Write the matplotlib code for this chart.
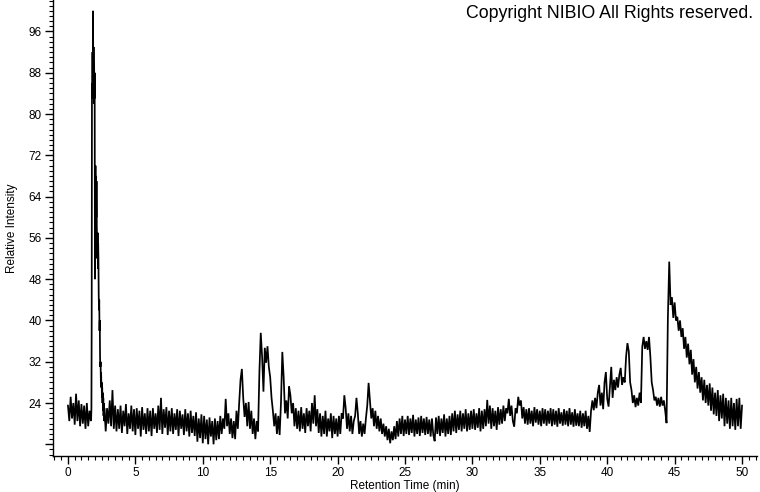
import numpy as np
import matplotlib
matplotlib.use("Agg")
import matplotlib.pyplot as plt
from matplotlib.ticker import MultipleLocator, FixedLocator

plt.rcParams['font.family'] = ['Liberation Sans', 'DejaVu Sans']

# ---- data (relative intensity) ----
step_main = 0.1      # minutes between samples (regular parts)
step_peak = 0.02     # minutes between samples (main peak)

# t = 0.0 .. 1.7
inten_start = [23.5, 20.5, 25.2, 21.0, 24.0, 19.8, 25.8, 20.5, 24.5, 19.5,
               23.8, 20.0, 23.5, 19.0, 24.0, 19.5, 22.5, 20.5]

# t = 1.72 .. 2.70 (main peak)
inten_peak = [21.0, 23.0, 40.0, 86.0, 83.0, 92.0, 86.0, 100.0, 84.0, 93.0,
              82.0, 90.0, 83.0, 88.0, 48.0, 62.0, 70.0, 59.0, 68.0, 60.0,
              67.0, 58.0, 56.0, 52.0, 57.0, 50.0, 55.0, 52.0, 45.0, 42.0,
              44.0, 38.0, 40.0, 33.0, 31.0, 32.0, 28.0, 30.0, 27.0, 28.0,
              25.0, 27.0, 24.0, 26.0, 22.5, 25.0, 21.5, 24.0, 20.5, 23.0]

# t = 2.8 .. 9.9
inten_03_10 = [18.5, 23.0,
               20.0, 24.5, 19.5, 26.5, 19.0, 23.5, 18.5, 22.8, 19.0, 23.5,
               18.2, 22.5, 19.5, 23.8, 18.0, 22.0, 19.0, 23.5, 18.5, 22.8,
               17.8, 23.0, 19.0, 22.5, 17.5, 23.2, 18.8, 22.0, 18.0, 23.0,
               18.5, 22.5, 17.6, 23.0, 19.0, 22.0, 18.2, 23.5, 18.8, 25.0,
               18.0, 22.8, 19.2, 23.2, 17.8, 22.5, 18.5, 23.0, 18.0, 22.0,
               18.8, 22.8, 17.6, 22.5, 19.0, 21.8, 17.8, 22.8, 18.5, 22.0,
               17.5, 22.5, 18.2, 21.5, 17.6, 22.2, 16.5, 21.0, 17.2, 21.8]

# t = 10.0 .. 19.9
inten_10_20 = [16.2, 21.5, 17.0, 20.8, 16.0, 21.2, 17.5, 20.5, 16.0, 21.0,
               16.8, 20.5, 17.0, 21.5, 18.0, 21.0, 19.0, 24.8, 19.5, 22.0,
               18.0, 21.0, 17.2, 20.5, 17.0, 22.5, 19.0, 24.0, 28.5, 30.6,
               25.0, 21.3, 24.0, 19.5, 24.2, 19.0, 22.5, 18.0, 21.0, 17.0,
               20.5, 18.5, 30.0, 37.6, 33.0, 26.2, 34.7, 31.8, 35.0, 31.0,
               29.0, 25.0, 22.5, 19.5, 22.0, 18.0, 21.5, 17.8, 24.0, 33.9,
               29.0, 22.0, 24.5, 21.0, 27.2, 25.5, 22.0, 24.0, 19.5, 23.0,
               19.0, 22.5, 18.5, 23.2, 19.0, 22.0, 18.2, 23.0, 19.5, 22.5,
               18.5, 24.0, 20.0, 25.5, 19.5, 22.8, 18.2, 22.0, 17.5, 21.5,
               18.0, 22.5, 17.5, 21.0, 18.5, 22.0, 17.2, 21.5, 18.0, 21.0]

# t = 20.0 .. 29.9
inten_20_30 = [17.5, 21.5, 18.0, 22.0, 21.0, 25.5, 23.0, 19.0, 22.0, 18.5,
               21.5, 18.0, 20.5, 21.5, 25.0, 22.0, 18.0, 20.5, 17.5, 20.0,
               18.0, 21.0, 23.5, 27.9, 24.5, 21.0, 23.0, 19.5, 22.5, 19.0,
               21.5, 18.5, 21.0, 18.0, 20.0, 17.5, 19.5, 16.8, 19.0, 16.2,
               18.5, 16.8, 19.5, 17.0, 20.5, 17.5, 21.0, 18.0, 21.5, 17.6,
               20.8, 18.0, 21.5, 17.8, 21.0, 18.2, 21.7, 17.5, 20.8, 18.0,
               21.2, 17.6, 21.5, 18.2, 21.0, 17.8, 21.3, 18.0, 20.8, 17.5,
               21.0, 17.8, 16.6, 21.2, 18.0, 21.5, 17.6, 21.0, 18.2, 21.8,
               17.5, 21.0, 18.0, 21.5, 17.8, 22.0, 18.5, 22.5, 18.2, 21.8,
               18.8, 22.5, 18.5, 22.0, 19.0, 22.8, 18.5, 22.0, 18.8, 22.5]

# t = 30.0 .. 39.9
inten_30_40 = [19.0, 22.8, 18.8, 22.0, 19.2, 23.0, 18.5, 22.5, 19.0, 22.8,
               19.5, 24.6, 20.0, 23.5, 19.0, 23.0, 19.5, 22.5, 18.8, 23.2,
               19.8, 22.8, 20.0, 23.5, 20.5, 23.0, 22.0, 24.8, 21.5, 23.5,
               20.5, 19.4, 23.0, 22.0, 25.2, 23.5, 24.5, 21.0, 23.2, 20.0,
               22.8, 19.8, 23.0, 20.0, 22.5, 19.5, 23.2, 20.2, 22.8, 19.8,
               22.5, 19.5, 23.0, 20.0, 22.8, 19.6, 22.5, 20.0, 23.0, 19.5,
               22.8, 19.8, 22.5, 19.4, 23.0, 20.0, 22.2, 19.6, 22.8, 19.8,
               22.5, 19.5, 23.0, 19.8, 22.2, 19.4, 22.8, 19.6, 22.0, 19.5,
               22.5, 19.2, 22.0, 19.5, 22.5, 19.0, 21.5, 18.4, 22.5, 24.5,
               22.6, 25.0, 23.0, 26.0, 27.5, 23.5, 26.0, 22.8, 28.0, 30.0]

# t = 40.0 .. 50.0
inten_40_50 = [24.8, 23.3, 27.0, 31.0, 25.0, 28.5, 26.5, 29.0, 27.0, 29.5,
               30.8, 27.5, 29.0, 28.0, 33.0, 35.6, 34.0, 28.0, 26.5, 24.0,
               25.5, 23.2, 25.0, 23.5, 26.0, 24.0, 34.9, 36.8, 34.5, 36.0,
               34.3, 36.8, 33.0, 28.0, 26.5, 24.5, 25.2, 23.5, 25.0, 23.3,
               25.2, 23.5, 24.5, 22.5, 20.1, 40.7, 51.4, 43.0, 44.5, 40.5,
               43.5, 40.0, 40.7, 38.0, 40.0, 36.8, 38.5, 34.5, 36.8, 32.8,
               35.5, 31.5, 34.3, 29.5, 32.5, 28.0, 31.0, 26.8, 30.0, 26.0,
               29.0, 24.5, 28.5, 24.0, 27.5, 23.5, 27.8, 22.5, 27.0, 21.8,
               26.0, 21.5, 26.5, 20.5, 25.5, 21.0, 25.8, 19.5, 25.0, 20.0,
               24.5, 19.0, 25.0, 19.5, 24.0, 18.8, 24.8, 19.5, 25.0, 19.0,
               23.5]

segments = [
    (0.0, step_main, inten_start),
    (1.72, step_peak, inten_peak),
    (2.8, step_main, inten_03_10),
    (10.0, step_main, inten_10_20),
    (20.0, step_main, inten_20_30),
    (30.0, step_main, inten_30_40),
    (40.0, step_main, inten_40_50),
]

times, values = [], []
for start, step, vals in segments:
    times.extend(start + step * np.arange(len(vals)))
    values.extend(vals)
times = np.array(times)
values = np.array(values)

y_major = [16, 24, 32, 40, 48, 56, 64, 72, 80, 88, 96]
y_labels = ['', '24', '32', '40', '48', '56', '64', '72', '80', '88', '96']
x_major = [0, 5, 10, 15, 20, 25, 30, 35, 40, 45, 50]

# ---- figure ----
fig = plt.figure(figsize=(7.6, 4.92), dpi=100)
ax = fig.add_axes([53 / 760, 36 / 492, 704 / 760, 456 / 492])

ax.plot(times, values, color='black', lw=1.25, solid_joinstyle='miter')

ax.set_xlim(-1.11, 51.11)
ax.set_ylim(13.73, 102.1)

for s in ('top', 'right'):
    ax.spines[s].set_visible(False)
for s in ('left', 'bottom'):
    ax.spines[s].set_linewidth(1.0)

ax.xaxis.set_major_locator(FixedLocator(x_major))
ax.xaxis.set_minor_locator(MultipleLocator(0.5))
ax.yaxis.set_major_locator(FixedLocator(y_major))
ax.set_yticklabels(y_labels)
ax.yaxis.set_minor_locator(MultipleLocator(1))

ax.tick_params(axis='both', which='major', direction='out', length=6,
               width=1.0, labelsize=8.5, pad=2)
ax.tick_params(axis='both', which='minor', direction='out', length=3,
               width=0.8)

ax.set_xlabel('Retention Time (min)', fontsize=8.5, labelpad=1)
ax.set_ylabel('Relative Intensity', fontsize=8.5, labelpad=8)

fig.text(753 / 760, 1 - 14 / 492, 'Copyright NIBIO All Rights reserved.',
         ha='right', va='center', fontsize=12.8)

fig.savefig('out.png', dpi=100)
